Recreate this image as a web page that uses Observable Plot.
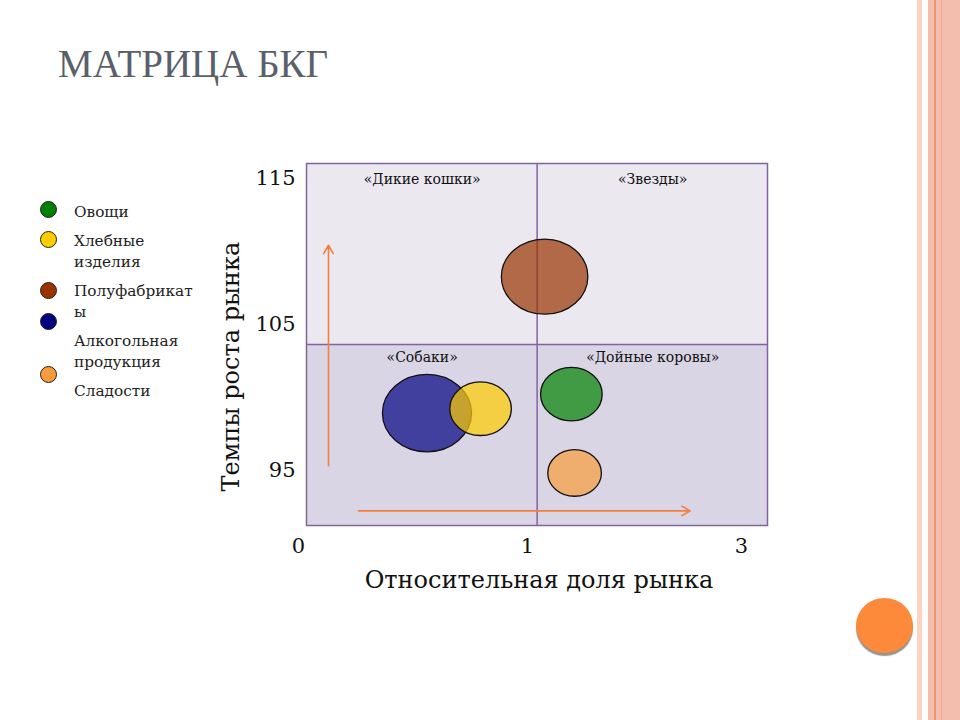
<!DOCTYPE html>
<html>
<head>
<meta charset="utf-8">
<script src="https://cdn.jsdelivr.net/npm/d3@7"></script>
<script src="https://cdn.jsdelivr.net/npm/@observablehq/plot@0.6"></script>
<style>
  html, body { margin: 0; padding: 0; background: #ffffff; }
  #page { position: relative; width: 960px; height: 720px; overflow: hidden; background: #fff; }
  #chart { position: absolute; left: 0; top: 0; }
  #title { position: absolute; left: 58px; top: 45px; font-family: "Liberation Serif", serif; font-size: 39px; line-height: 38px; color: #5a5f6b; white-space: nowrap; }
  #legend-dots { position: absolute; left: 40px; top: 201px; display: flex; flex-direction: column; }
  #legend-dots .dot { width: 15px; height: 15px; border-radius: 50%; border: 1.2px solid #222; }
  #legend-dots .dot:nth-child(2) { margin-top: 13px; }
  #legend-dots .dot:nth-child(3) { margin-top: 34px; }
  #legend-dots .dot:nth-child(4) { margin-top: 14px; }
  #legend-dots .dot:nth-child(5) { margin-top: 36px; }
  #legend-text { position: absolute; left: 74px; top: 202px; width: 127px; font-family: "DejaVu Serif", serif; font-size: 15.3px; line-height: 21.5px; color: #222; }
  #legend-text div { margin-bottom: 7px; overflow-wrap: anywhere; }
  .stripe { position: absolute; top: 0; height: 720px; }
  #badge { position: absolute; left: 856px; top: 598px; width: 57px; height: 55px; border-radius: 50%; background: #fd8a3a; box-shadow: 0px 3px 1px rgba(120,110,105,0.75); }
</style>
</head>
<body>
<div id="page">
  <div class="stripe" style="left:917px;width:5px;background:#fcd3c2;"></div>
  <div class="stripe" style="left:928px;width:32px;background:#f3bead;"></div>
  <div class="stripe" style="left:934px;width:2px;background:#ef9670;"></div>
  <div class="stripe" style="left:941px;width:1px;background:#f0ad96;"></div>
  <div id="badge"></div>
  <div id="chart"></div>
  <div id="title">МАТРИЦА БКГ</div>
  <div id="legend-dots"></div>
  <div id="legend-text"></div>
</div>
<script>
// ---- data ----
const products = ["Овощи", "Хлебные изделия", "Полуфабрикаты", "Алкогольная продукция", "Сладости"];
const productColors = ["#008000", "#ffcc00", "#993300", "#000080", "#f89b3c"];
const marketShare = [1.41, 0.795, 1.16, 0.561, 1.44];      // relative market share (x)
const marketGrowth = [100.2, 99.2, 108.25, 98.9, 94.8];    // market growth rate (y)
const salesSize = [33, 33, 65, 69, 25];                    // bubble size

const xTicks = [0, 1, 3];
const yTicks = [95, 105, 115];
const xLabel = "Относительная доля рынка";
const yLabel = "Темпы роста рынка";

const quadrantNames = ["«Дикие кошки»", "«Звезды»", "«Собаки»", "«Дойные коровы»"];
const quadrantX = [0.54, 2.17, 0.54, 2.17];
const quadrantY = [114.9, 114.9, 102.7, 102.7];

const shareDivider = 1.09;
const growthDivider = 103.6;
const yDomain = [91.2, 116];

const arrowX1 = [0.131, 0.262];
const arrowY1 = [95.3, 92.2];
const arrowX2 = [0.131, 2.52];
const arrowY2 = [110.4, 92.2];

// ---- build tables ----
const bubbles = products.map((p, i) => ({product: p, share: marketShare[i], growth: marketGrowth[i], size: salesSize[i]}));
const quadrants = quadrantNames.map((n, i) => ({name: n, x: quadrantX[i], y: quadrantY[i]}));
const bands = [
  {y1: yDomain[0], y2: growthDivider, fill: "#d9d5e5"},
  {y1: growthDivider, y2: yDomain[1], fill: "#ebe8f0"}
];
const arrows = arrowX1.map((x, i) => ({x1: x, y1: arrowY1[i], x2: arrowX2[i], y2: arrowY2[i]}));

// ellipse symbol (bubbles are slightly wider than tall)
const ellipseSymbol = {
  draw(ctx, size) {
    const r = Math.sqrt(size / Math.PI), a = 1.15;
    const rx = r * Math.sqrt(a), ry = r / Math.sqrt(a), k = 0.5523;
    ctx.moveTo(rx, 0);
    ctx.bezierCurveTo(rx, ry * k, rx * k, ry, 0, ry);
    ctx.bezierCurveTo(-rx * k, ry, -rx, ry * k, -rx, 0);
    ctx.bezierCurveTo(-rx, -ry * k, -rx * k, -ry, 0, -ry);
    ctx.bezierCurveTo(rx * k, -ry, rx, -ry * k, rx, 0);
    ctx.closePath();
  }
};

const serif = "DejaVu Serif";
const purple = "#8064a2";

const chart = Plot.plot({
  width: 960,
  height: 720,
  marginLeft: 306,
  marginRight: 193,
  marginTop: 163,
  marginBottom: 195,
  style: {background: "transparent", fontFamily: serif, color: "#111", overflow: "visible"},
  x: {type: "linear", domain: xTicks, range: [298, 527, 741]},
  y: {domain: yDomain},
  r: {type: "sqrt", domain: [0, 100], range: [0, 50]},
  color: {domain: products, range: productColors},
  marks: [
    Plot.rect(bands, {y1: "y1", y2: "y2", fill: "fill"}),
    Plot.ruleX([shareDivider], {stroke: purple, strokeWidth: 1.5}),
    Plot.ruleY([growthDivider], {stroke: purple, strokeWidth: 1.5}),
    Plot.frame({stroke: purple, strokeWidth: 1.5}),
    Plot.arrow(arrows, {x1: "x1", y1: "y1", x2: "x2", y2: "y2", stroke: "#f47e3e", strokeWidth: 1.6, headLength: 9, bend: 0}),
    Plot.dot(bubbles, {x: "share", y: "growth", r: "size", symbol: ellipseSymbol, fill: "product", fillOpacity: 0.7, stroke: "#111", strokeWidth: 1.3}),
    Plot.text(quadrants, {x: "x", y: "y", text: "name", fontSize: 14, fontFamily: serif, fill: "#111"}),
    Plot.axisY({ticks: yTicks, tickSize: 0, tickPadding: 11, fontSize: 21, fontFamily: serif, label: null}),
    Plot.axisX({ticks: xTicks, tickSize: 0, tickPadding: 13, fontSize: 21, fontFamily: serif, tickFormat: d => String(d), label: null}),
    Plot.text([xLabel], {frameAnchor: "bottom", dy: 62, dx: 2, fontSize: 24, fontFamily: serif, fill: "#111"}),
    Plot.text([yLabel], {frameAnchor: "left", textAnchor: "middle", rotate: -90, dx: -75, dy: 22, fontSize: 24, fontFamily: serif, fill: "#111"})
  ]
});
document.getElementById("chart").appendChild(chart);

// ---- legend ----
const dots = document.getElementById("legend-dots");
const texts = document.getElementById("legend-text");
products.forEach((p, i) => {
  const d = document.createElement("div");
  d.className = "dot";
  d.style.background = productColors[i];
  dots.appendChild(d);
  const t = document.createElement("div");
  t.textContent = p;
  texts.appendChild(t);
});
</script>
</body>
</html>
